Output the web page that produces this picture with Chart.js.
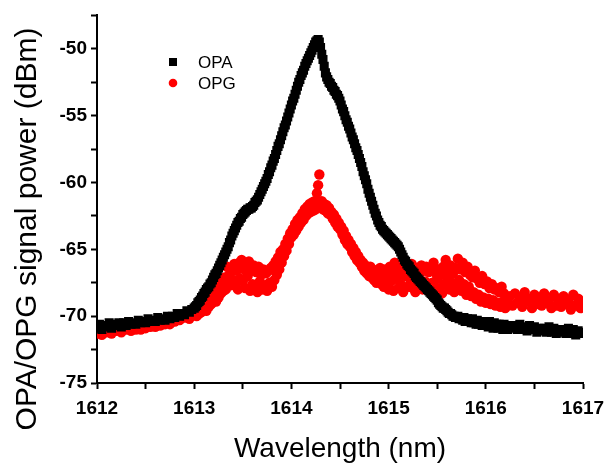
<!DOCTYPE html>
<html>
<head>
<meta charset="utf-8">
<script src="https://cdn.jsdelivr.net/npm/chart.js@4/dist/chart.umd.min.js"></script>
<style>
  body { margin: 0; background: #fff; }
  #wrap { width: 615px; height: 466px; }
</style>
</head>
<body>
<div id="wrap"><canvas id="myChart" width="615" height="466"></canvas></div>
<script>
const ctx = document.getElementById('myChart').getContext("2d");

// wavelength grid (nm): 0.025 nm in the flat wings, 0.0125 nm around the peak
const wavelength = [
  1612.000, 1612.025, 1612.050, 1612.075, 1612.100, 1612.125, 1612.150, 1612.175, 1612.200, 1612.225,
  1612.250, 1612.275, 1612.300, 1612.325, 1612.350, 1612.375, 1612.400, 1612.425, 1612.450, 1612.475,
  1612.500, 1612.525, 1612.550, 1612.575, 1612.600, 1612.625, 1612.650, 1612.675, 1612.700, 1612.725,
  1612.750, 1612.775, 1612.800, 1612.825, 1612.850, 1612.875, 1612.900, 1612.925, 1612.950, 1612.975,
  1613.000,
  1613.0125, 1613.025, 1613.0375, 1613.050, 1613.0625, 1613.075, 1613.0875, 1613.100,
  1613.1125, 1613.125, 1613.1375, 1613.150, 1613.1625, 1613.175, 1613.1875, 1613.200,
  1613.2125, 1613.225, 1613.2375, 1613.250, 1613.2625, 1613.275, 1613.2875, 1613.300,
  1613.3125, 1613.325, 1613.3375, 1613.350, 1613.3625, 1613.375, 1613.3875, 1613.400,
  1613.4125, 1613.425, 1613.4375, 1613.450, 1613.4625, 1613.475, 1613.4875, 1613.500,
  1613.5125, 1613.525, 1613.5375, 1613.550, 1613.5625, 1613.575, 1613.5875, 1613.600,
  1613.6125, 1613.625, 1613.6375, 1613.650, 1613.6625, 1613.675, 1613.6875, 1613.700,
  1613.7125, 1613.725, 1613.7375, 1613.750, 1613.7625, 1613.775, 1613.7875, 1613.800,
  1613.8125, 1613.825, 1613.8375, 1613.850, 1613.8625, 1613.875, 1613.8875, 1613.900,
  1613.9125, 1613.925, 1613.9375, 1613.950, 1613.9625, 1613.975, 1613.9875, 1614.000,
  1614.0125, 1614.025, 1614.0375, 1614.050, 1614.0625, 1614.075, 1614.0875, 1614.100,
  1614.1125, 1614.125, 1614.1375, 1614.150, 1614.1625, 1614.175, 1614.1875, 1614.200,
  1614.2125, 1614.225, 1614.2375, 1614.250, 1614.2625, 1614.275, 1614.2875, 1614.300,
  1614.3125, 1614.325, 1614.3375, 1614.350, 1614.3625, 1614.375, 1614.3875, 1614.400,
  1614.4125, 1614.425, 1614.4375, 1614.450, 1614.4625, 1614.475, 1614.4875, 1614.500,
  1614.5125, 1614.525, 1614.5375, 1614.550, 1614.5625, 1614.575, 1614.5875, 1614.600,
  1614.6125, 1614.625, 1614.6375, 1614.650, 1614.6625, 1614.675, 1614.6875, 1614.700,
  1614.7125, 1614.725, 1614.7375, 1614.750, 1614.7625, 1614.775, 1614.7875, 1614.800,
  1614.8125, 1614.825, 1614.8375, 1614.850, 1614.8625, 1614.875, 1614.8875, 1614.900,
  1614.9125, 1614.925, 1614.9375, 1614.950, 1614.9625, 1614.975, 1614.9875, 1615.000,
  1615.0125, 1615.025, 1615.0375, 1615.050, 1615.0625, 1615.075, 1615.0875, 1615.100,
  1615.1125, 1615.125, 1615.1375, 1615.150, 1615.1625, 1615.175, 1615.1875, 1615.200,
  1615.2125, 1615.225, 1615.2375, 1615.250, 1615.2625, 1615.275, 1615.2875, 1615.300,
  1615.3125, 1615.325, 1615.3375, 1615.350, 1615.3625, 1615.375, 1615.3875, 1615.400,
  1615.4125, 1615.425, 1615.4375, 1615.450, 1615.4625, 1615.475, 1615.4875, 1615.500,
  1615.5125, 1615.525, 1615.5375, 1615.550, 1615.5625, 1615.575, 1615.5875, 1615.600,
  1615.6125, 1615.625, 1615.6375, 1615.650, 1615.6625, 1615.675, 1615.6875, 1615.700,
  1615.7125, 1615.725, 1615.7375, 1615.750, 1615.7625, 1615.775, 1615.7875, 1615.800,
  1615.8125, 1615.825, 1615.8375, 1615.850, 1615.8625, 1615.875, 1615.8875, 1615.900,
  1615.9125, 1615.925, 1615.9375, 1615.950, 1615.9625, 1615.975, 1615.9875, 1616.000,
  1616.0125, 1616.025, 1616.0375, 1616.050, 1616.0625, 1616.075, 1616.0875, 1616.100,
  1616.1125, 1616.125, 1616.1375, 1616.150, 1616.1625, 1616.175, 1616.1875, 1616.200,
  1616.225, 1616.250, 1616.275, 1616.300, 1616.325, 1616.350, 1616.375, 1616.400,
  1616.425, 1616.450, 1616.475, 1616.500, 1616.525, 1616.550, 1616.575, 1616.600,
  1616.625, 1616.650, 1616.675, 1616.700, 1616.725, 1616.750, 1616.775, 1616.800,
  1616.825, 1616.850, 1616.875, 1616.900, 1616.925, 1616.950, 1616.975, 1617.000
];

// OPA signal power (dBm)
const opa = [
  -70.9, -70.6, -71.0, -70.7, -70.8, -70.5, -70.9, -70.6, -70.7, -70.5,
  -70.8, -70.5, -70.7, -70.4, -70.6, -70.5, -70.6, -70.3, -70.5, -70.4,
  -70.5, -70.2, -70.4, -70.3, -70.4, -70.1, -70.3, -70.2, -70.3, -70.0,
  -70.2, -70.0, -70.1, -69.8, -70.0, -69.8, -69.9, -69.6, -69.7, -69.5,
  -69.4,
  -69.3, -69.2, -69.0, -68.9, -68.8, -68.6, -68.5, -68.3,
  -68.2, -68.0, -67.9, -67.8, -67.6, -67.5, -67.3, -67.1,
  -66.9, -66.8, -66.6, -66.4, -66.2, -66.0, -65.8, -65.6,
  -65.4, -65.2, -65.0, -64.8, -64.5, -64.3, -64.0, -63.8,
  -63.6, -63.4, -63.2, -63.0, -62.9, -62.7, -62.6, -62.4,
  -62.3, -62.2, -62.1, -62.0, -62.0, -61.9, -61.9, -61.8,
  -61.7, -61.5, -61.4, -61.3, -61.1, -60.9, -60.7, -60.5,
  -60.3, -60.1, -59.9, -59.7, -59.4, -59.2, -58.9, -58.7,
  -58.4, -58.2, -57.9, -57.6, -57.3, -57.1, -56.8, -56.5,
  -56.2, -55.9, -55.7, -55.4, -55.1, -54.8, -54.5, -54.2,
  -53.9, -53.7, -53.4, -53.1, -52.8, -52.5, -52.3, -52.0,
  -51.8, -51.6, -51.3, -51.1, -50.9, -50.7, -50.5, -50.3,
  -50.1, -49.9, -49.7, -49.5, -49.4, -49.3, -49.5, -49.9,
  -50.4, -50.8, -51.3, -51.8, -52.1, -52.3, -52.5, -52.6,
  -52.8, -52.9, -53.1, -53.2, -53.4, -53.5, -53.7, -53.9,
  -54.2, -54.5, -54.7, -55.0, -55.3, -55.5, -55.8, -56.0,
  -56.3, -56.6, -56.8, -57.1, -57.4, -57.6, -57.9, -58.2,
  -58.5, -58.8, -59.2, -59.5, -59.8, -60.1, -60.5, -60.8,
  -61.1, -61.4, -61.7, -62.0, -62.3, -62.5, -62.8, -63.0,
  -63.2, -63.3, -63.5, -63.6, -63.7, -63.8, -63.9, -64.0,
  -64.1, -64.2, -64.3, -64.4, -64.5, -64.6, -64.7, -64.8,
  -65.0, -65.2, -65.4, -65.6, -65.8, -65.9, -66.1, -66.2,
  -66.3, -66.5, -66.6, -66.7, -66.8, -67.0, -67.1, -67.2,
  -67.3, -67.4, -67.5, -67.6, -67.7, -67.8, -67.9, -68.0,
  -68.1, -68.2, -68.3, -68.4, -68.5, -68.6, -68.7, -68.8,
  -69.0, -69.1, -69.2, -69.3, -69.4, -69.4, -69.5, -69.6,
  -69.7, -69.8, -69.8, -69.9, -70.0, -70.0, -70.1, -70.1,
  -70.0, -70.2, -70.1, -70.2, -70.3, -70.1, -70.4, -70.3,
  -70.2, -70.4, -70.3, -70.5, -70.2, -70.5, -70.4, -70.6,
  -70.3, -70.6, -70.4, -70.5, -70.7, -70.4, -70.7, -70.6,
  -70.5, -70.8, -70.4, -70.7, -70.6, -70.9, -70.5, -70.8,
  -70.6, -70.9, -70.6, -70.8, -70.7, -71.0, -70.6, -70.9,
  -71.0, -70.7, -70.9, -70.7, -71.0, -70.6, -71.0, -70.8,
  -71.1, -70.7, -71.0, -70.8, -71.2, -70.9, -71.1, -70.9,
  -71.2, -70.8, -71.2, -70.9, -71.3, -71.0, -71.2, -71.0,
  -71.3, -70.9, -71.3, -71.0, -71.4, -71.1, -71.3, -71.2
];

// OPG signal power (dBm)
const opg = [
  -71.3, -71.0, -71.4, -71.1, -71.2, -70.9, -71.3, -71.0, -71.1, -70.8,
  -71.2, -70.9, -71.0, -70.8, -71.1, -70.8, -71.0, -70.7, -71.0, -70.8,
  -70.9, -70.6, -70.8, -70.7, -70.8, -70.5, -70.7, -70.4, -70.6, -70.3,
  -70.6, -70.2, -70.4, -70.0, -70.3, -69.9, -70.1, -69.7, -70.2, -69.6,
  -69.9,
  -69.5, -70.0, -69.4, -69.8, -69.2, -69.7, -69.0, -69.5,
  -69.1, -69.6, -68.8, -69.3, -68.6, -69.1, -68.4, -68.9,
  -68.2, -68.9, -67.5, -68.6, -67.9, -68.3, -67.4, -68.1,
  -67.1, -68.0, -66.3, -67.6, -66.9, -67.7, -66.4, -67.3,
  -66.1, -67.5, -66.6, -68.0, -66.0, -67.2, -65.8, -67.4,
  -66.5, -67.9, -66.1, -67.0, -65.9, -68.1, -66.6, -67.6,
  -66.2, -67.8, -66.7, -68.2, -66.3, -67.4, -66.9, -68.0,
  -66.5, -67.7, -66.8, -68.1, -66.6, -67.5, -66.4, -67.8,
  -66.2, -67.3, -65.9, -66.9, -65.6, -66.5, -65.2, -66.0,
  -65.0, -65.5, -64.6, -65.1, -64.2, -64.6, -63.8, -64.1,
  -63.5, -63.9, -63.1, -63.6, -62.8, -63.3, -62.6, -63.0,
  -62.3, -62.8, -62.0, -62.5, -61.8, -62.3, -61.6, -62.2,
  -61.5, -62.1, -61.4, -62.0, -60.8, -60.2, -59.4, -61.7,
  -61.4, -62.0, -61.6, -62.1, -61.7, -62.3, -61.9, -62.4,
  -62.2, -62.7, -62.4, -63.0, -62.7, -63.3, -63.0, -63.5,
  -63.3, -63.9, -63.6, -64.3, -64.0, -64.6, -64.3, -64.8,
  -64.6, -65.2, -64.9, -65.5, -65.2, -65.8, -65.5, -66.0,
  -65.8, -66.3, -66.0, -66.6, -66.2, -66.8, -66.4, -67.0,
  -66.3, -67.1, -66.5, -67.3, -66.6, -67.5, -66.8, -67.4,
  -66.4, -67.6, -66.9, -67.8, -66.5, -67.3, -66.7, -68.0,
  -66.3, -67.4, -66.8, -68.1, -66.0, -67.2, -66.6, -67.9,
  -66.4, -67.6, -66.9, -68.2, -66.2, -67.0, -66.7, -67.8,
  -66.5, -67.5, -66.1, -67.9, -66.8, -68.2, -66.4, -67.3,
  -66.9, -67.7, -66.2, -68.0, -66.6, -67.4, -66.3, -67.9,
  -66.7, -68.1, -66.4, -67.5, -66.0, -67.8, -66.8, -67.2,
  -66.5, -67.9, -66.9, -68.3, -66.3, -67.6, -65.8, -67.1,
  -66.6, -68.0, -66.2, -67.5, -66.8, -68.2, -66.4, -67.7,
  -65.7, -67.3, -66.5, -68.1, -66.0, -67.6, -66.7, -68.4,
  -66.3, -67.8, -66.9, -68.5, -67.1, -68.2, -66.6, -68.7,
  -67.2, -68.4, -67.5, -68.9, -67.0, -68.6, -67.6, -69.0,
  -67.4, -68.7, -67.9, -69.1, -67.6, -68.8, -68.0, -69.2,
  -67.9, -69.0, -68.2, -69.3, -67.8, -68.9, -68.3, -69.4,
  -68.9, -68.5, -69.2, -68.3, -69.0, -68.6, -69.3, -68.2,
  -68.9, -68.7, -69.4, -68.4, -69.1, -68.6, -69.2, -68.3,
  -69.0, -68.8, -69.4, -68.4, -69.2, -68.7, -69.3, -68.5,
  -69.1, -68.8, -69.5, -68.4, -69.2, -68.7, -69.4, -68.9
];

const seriesNames = ['OPA', 'OPG'];
const yTitle = 'OPA/OPG signal power (dBm)';
const xTitle = 'Wavelength (nm)';
const yTickStep = 2.5;
const xTickStep = 0.5;

const toPoints = (ys) => wavelength.map((w, i) => ({x: w, y: ys[i]}));

// legend drawn inside the plot, like the original
const innerLegend = {
  id: 'innerLegend',
  afterDatasetsDraw(chart) {
    const c = chart.ctx;
    const left = 173, top = 62, gap = 21;
    c.save();
    chart.data.datasets.forEach((ds, i) => {
      const y = top + i * gap;
      c.fillStyle = ds.backgroundColor;
      if (ds.pointStyle === 'rect') {
        c.fillRect(left - 4, y - 4, 8, 8);
      } else {
        c.beginPath();
        c.arc(left, y, 4.3, 0, Math.PI * 2);
        c.fill();
      }
      c.fillStyle = '#000';
      c.font = '17px "Liberation Sans", Arial, sans-serif';
      c.textBaseline = 'middle';
      c.fillText(ds.label, left + 25, y + 1);
    });
    c.restore();
  }
};

// y title sits centred on the whole figure height, not on the axis
const yTitlePlugin = {
  id: 'yTitlePlugin',
  afterDraw(chart) {
    const c = chart.ctx;
    c.save();
    c.translate(28, 229);
    c.rotate(-Math.PI / 2);
    c.fillStyle = '#000';
    c.font = '30px "Liberation Sans", Arial, sans-serif';
    c.textAlign = 'center';
    c.textBaseline = 'middle';
    c.fillText(yTitle, 0, 0);
    c.restore();
  }
};

const data = {
  datasets: [
    {
      label: seriesNames[0],
      data: toPoints(opa),
      pointStyle: 'rect',
      pointRadius: 6.4,
      pointBorderWidth: 0,
      backgroundColor: '#000000',
      borderColor: '#000000',
    },
    {
      label: seriesNames[1],
      data: toPoints(opg),
      pointStyle: 'circle',
      pointRadius: 5.2,
      pointBorderWidth: 0,
      backgroundColor: '#ff0000',
      borderColor: '#ff0000',
    },
  ],
};

const tickFont = {family: '"Liberation Sans", Arial, sans-serif', size: 19, weight: 'bold'};

const config = {
  type: 'scatter',
  data: data,
  plugins: [innerLegend, yTitlePlugin],
  options: {
    responsive: false,
    animation: false,
    layout: {padding: {left: 0, right: 32, top: 4, bottom: 0}},
    plugins: {
      legend: {display: false},
      tooltip: {enabled: false},
    },
    scales: {
      x: {
        type: 'linear',
        min: 1612,
        max: 1617,
        afterFit: (scale) => { scale.height = 83; },
        border: {display: true, color: '#000', width: 2},
        grid: {drawOnChartArea: false, drawTicks: true, tickLength: 6, tickWidth: 2, tickColor: '#000'},
        ticks: {
          stepSize: xTickStep,
          autoSkip: false,
          maxRotation: 0,
          padding: 8,
          color: '#000',
          font: tickFont,
          callback: (v) => (Number.isInteger(v) ? String(v) : ''),
        },
        title: {
          display: true,
          text: xTitle,
          color: '#000',
          font: {family: '"Liberation Sans", Arial, sans-serif', size: 28},
          padding: {top: 0, bottom: 0},
        },
      },
      y: {
        type: 'linear',
        min: -75,
        max: -47.5,
        afterFit: (scale) => { scale.width = 97; },
        border: {display: true, color: '#000', width: 2},
        grid: {drawOnChartArea: false, drawTicks: true, tickLength: 6, tickWidth: 2, tickColor: '#000'},
        ticks: {
          stepSize: yTickStep,
          autoSkip: false,
          padding: 4,
          color: '#000',
          font: tickFont,
          callback: (v) => (v % 5 === 0 ? String(v) : ''),
        },
        title: {display: false},
      },
    },
  },
};

const myChart = new Chart(ctx, config);
</script>
</body>
</html>
